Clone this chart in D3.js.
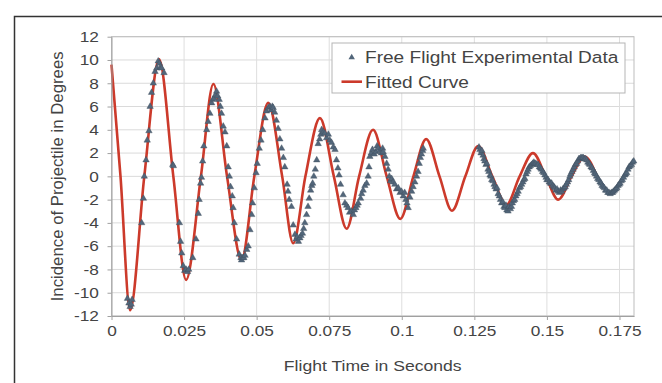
<!DOCTYPE html>
<html>
<head>
<meta charset="utf-8">
<script src="https://cdn.jsdelivr.net/npm/d3@7"></script>
<style>
	body { margin: 0; background: #fff; }
	svg text { font-family: "Liberation Sans", Arial, sans-serif; fill: #444; }
</style>
</head>
<body>
<svg id="graph"></svg>
<script>
// tick values of both axes
const xTicks = [0, 0.025, 0.05, 0.075, 0.1, 0.125, 0.15, 0.175];
const yTicks = [-12, -10, -8, -6, -4, -2, 0, 2, 4, 6, 8, 10, 12];

// legend labels and axis titles
const legendLabels = ["Free Flight Experimental Data", "Fitted Curve"];
const xTitle = "Flight Time in Seconds";
const yTitle = "Incidence of Projectile in Degrees";

// fitted curve: peaks, troughs and zero crossings [time, degrees]
const fittedCurve = [
	[0, 9.6], [0.0031, 0], [0.0064, -11.5], [0.0113, 0], [0.0164, 10.05],
	[0.0213, 0], [0.0257, -8.9], [0.0308, 0], [0.0351, 7.94], [0.0398, 0],
	[0.0448, -7.2], [0.0492, 0], [0.054, 6.33], [0.0588, 0], [0.0626, -5.75],
	[0.0668, 0], [0.0718, 5.0], [0.0766, 0], [0.081, -4.5], [0.0853, 0],
	[0.0901, 4.0], [0.0948, 0], [0.0995, -3.65], [0.104, 0], [0.1084, 3.2],
	[0.113, 0], [0.1173, -2.95], [0.1219, 0], [0.1263, 2.6], [0.1312, 0],
	[0.136, -2.45], [0.1406, 0], [0.1452, 2.0], [0.1496, 0], [0.1539, -2.0],
	[0.1585, 0], [0.163, 1.7], [0.1672, 0]
];

// free flight measurements [time, degrees]
const experimentalData = [
	[0.0055, -10.5], [0.006, -10.9], [0.0064, -11.2], [0.0068, -11.0], [0.0071, -10.6],
	[0.0104, -4.0], [0.011, -1.9], [0.0113, 0.0], [0.0119, 1.4], [0.0123, 3.1],
	[0.0129, 3.9], [0.0133, 6.0], [0.0138, 7.2], [0.0144, 8.0], [0.015, 9.0],
	[0.0156, 9.3], [0.0161, 9.9], [0.0165, 9.7], [0.0169, 9.4], [0.0173, 9.3],
	[0.0181, 8.9], [0.0211, 1.0], [0.0213, 0.9], [0.0234, -4.0], [0.0238, -5.6],
	[0.0242, -6.6], [0.0247, -7.7], [0.0252, -8.1], [0.0257, -8.0], [0.0262, -8.2],
	[0.0266, -8.0], [0.028, -7.0], [0.0291, -5.4], [0.0299, -3.2], [0.0302, -2.0],
	[0.0307, -0.6], [0.031, -0.1], [0.0314, 1.3], [0.0318, 2.6], [0.0328, 4.0],
	[0.0333, 4.7], [0.0339, 5.4], [0.0345, 6.3], [0.0349, 6.6], [0.0353, 6.7],
	[0.0358, 7.0], [0.0362, 7.3], [0.0366, 6.9], [0.0371, 6.6], [0.0375, 6.0],
	[0.0379, 5.4], [0.0385, 4.3], [0.0391, 3.8], [0.0397, 2.6], [0.0402, 0.8],
	[0.0406, 0.0], [0.041, -0.9], [0.0416, -1.7], [0.0419, -2.7], [0.0423, -4.0],
	[0.0431, -5.4], [0.044, -6.7], [0.0446, -7.0], [0.0448, -7.2], [0.0452, -7.0],
	[0.0456, -7.0], [0.046, -6.8], [0.0466, -6.3], [0.0471, -6.0], [0.0477, -4.6],
	[0.0483, -3.3], [0.0486, -2.3], [0.0492, -1.0], [0.0498, 0.3], [0.0502, 1.1],
	[0.0509, 2.4], [0.0515, 3.1], [0.0521, 4.0], [0.0529, 5.0], [0.0534, 5.6],
	[0.054, 5.9], [0.0546, 6.0], [0.055, 5.7], [0.0554, 6.0], [0.0557, 5.9],
	[0.0562, 5.5], [0.0568, 4.8], [0.0574, 4.1], [0.058, 3.2], [0.0586, 2.4],
	[0.0592, 1.6], [0.0597, 0.8], [0.0605, -0.7], [0.0608, -1.3], [0.0612, -2.0],
	[0.062, -2.6], [0.0626, -4.2], [0.0632, -5.0], [0.0636, -5.4], [0.064, -5.2],
	[0.0644, -5.6], [0.0649, -5.3], [0.0653, -5.1], [0.0658, -4.9], [0.0662, -4.5],
	[0.0666, -4.0], [0.0672, -3.3], [0.0677, -2.6], [0.0681, -1.9], [0.0686, -1.2],
	[0.069, -0.8], [0.0693, -0.6], [0.0697, 0.0], [0.0702, 0.6], [0.0707, 1.4],
	[0.0712, 2.8], [0.0717, 3.2], [0.0721, 3.6], [0.0724, 4.0], [0.073, 3.8],
	[0.0735, 3.7], [0.0741, 3.3], [0.0747, 3.6], [0.0752, 3.1], [0.0758, 2.9],
	[0.0764, 2.5], [0.077, 2.3], [0.0775, 1.4], [0.078, 0.7], [0.0784, 0.1],
	[0.0789, -0.7], [0.0798, -1.6], [0.0804, -2.3], [0.081, -2.5], [0.0815, -2.7],
	[0.082, -3.1], [0.0827, -3.0], [0.0833, -3.3], [0.0837, -2.9], [0.0842, -2.7],
	[0.0846, -2.5], [0.085, -2.3], [0.0858, -1.9], [0.0862, -1.5], [0.0867, -1.2],
	[0.0873, -0.8], [0.0879, -0.6], [0.0884, 0.0], [0.0887, 0.8], [0.089, 1.7],
	[0.0895, 2.0], [0.0899, 2.3], [0.0905, 1.9], [0.0911, 2.1], [0.0915, 2.6],
	[0.0919, 2.4], [0.0925, 2.2], [0.093, 2.0], [0.0934, 2.4], [0.0936, 2.1],
	[0.0942, 1.7], [0.0948, 1.1], [0.0953, 0.6], [0.0957, 0.0], [0.0961, -0.4],
	[0.0965, -0.2], [0.097, -0.5], [0.0976, -0.7], [0.0982, -1.1], [0.0988, -1.0],
	[0.0994, -1.4], [0.0999, -1.3], [0.1005, -1.7], [0.101, -1.4], [0.1014, -2.0],
	[0.1018, -2.3], [0.1022, -2.7], [0.1028, -1.8], [0.1034, -1.3], [0.1039, -0.9],
	[0.1045, -0.5], [0.1051, 0.0], [0.1056, 0.4], [0.106, 1.1], [0.1064, 1.6],
	[0.1068, 1.9], [0.1072, 2.2], [0.1074, 2.4],
	[0.1266, 2.5], [0.1269, 2.3], [0.1273, 2.0], [0.1276, 2.2], [0.128, 1.8],
	[0.1283, 1.5], [0.1286, 1.3], [0.129, 1.0], [0.1293, 1.1], [0.1297, 0.6],
	[0.13, 0.4], [0.1304, 0.1], [0.1307, 0.0], [0.131, -0.3], [0.1314, -0.4],
	[0.1318, -0.7], [0.1321, -0.9], [0.1325, -1.1], [0.1328, -1.0], [0.1332, -1.5],
	[0.1336, -1.7], [0.134, -2.0], [0.1344, -2.3], [0.1348, -2.2], [0.1352, -2.6],
	[0.1355, -2.7], [0.1359, -2.5], [0.1362, -2.9], [0.1366, -3.0], [0.137, -2.6],
	[0.1374, -2.8], [0.1378, -2.6], [0.1381, -2.3], [0.1385, -2.1], [0.1389, -2.0],
	[0.1393, -1.7], [0.1397, -1.5], [0.1401, -1.3], [0.1405, -1.0], [0.1409, -0.9],
	[0.1413, -0.7], [0.1417, -0.5], [0.142, -0.3], [0.1424, -0.2], [0.1428, 0.2],
	[0.1432, 0.4], [0.1435, 0.6], [0.1439, 0.8], [0.1443, 0.9], [0.1447, 1.0],
	[0.1451, 1.1], [0.1455, 1.2], [0.1458, 1.1], [0.1462, 1.1], [0.1466, 1.0],
	[0.147, 1.0], [0.1474, 0.8], [0.1478, 0.7], [0.1481, 0.6], [0.1485, 0.4],
	[0.1489, 0.3], [0.1493, 0.1], [0.1497, -0.1], [0.15, -0.3], [0.1504, -0.3],
	[0.1508, -0.5], [0.1512, -0.6], [0.1516, -0.6], [0.152, -0.8], [0.1524, -0.9],
	[0.1527, -1.0], [0.1531, -1.2], [0.1535, -1.1], [0.1539, -1.3], [0.1543, -1.4],
	[0.1547, -1.2], [0.1551, -1.3], [0.1555, -1.1], [0.1559, -1.0], [0.1563, -0.9],
	[0.1567, -0.7], [0.1571, -0.5], [0.1575, -0.3], [0.1579, 0.0], [0.1582, 0.2],
	[0.1586, 0.4], [0.159, 0.6], [0.1594, 0.8], [0.1598, 1.0], [0.1602, 1.1],
	[0.1606, 1.3], [0.161, 1.5], [0.1613, 1.5], [0.1617, 1.6], [0.1621, 1.6],
	[0.1625, 1.6], [0.1629, 1.5], [0.1633, 1.5], [0.1637, 1.4], [0.1641, 1.2],
	[0.1645, 1.1], [0.1648, 1.0], [0.1652, 0.8], [0.1656, 0.7], [0.166, 0.5],
	[0.1664, 0.3], [0.1667, 0.2], [0.1671, 0.0], [0.1675, -0.2], [0.1679, -0.3],
	[0.1683, -0.5], [0.1687, -0.6], [0.169, -0.8], [0.1694, -0.9], [0.1698, -1.0],
	[0.1702, -1.2], [0.1706, -1.2], [0.171, -1.4], [0.1714, -1.4], [0.1718, -1.5],
	[0.1722, -1.4], [0.1726, -1.4], [0.1729, -1.3], [0.1733, -1.2], [0.1737, -1.1],
	[0.1741, -1.0], [0.1745, -0.8], [0.1749, -0.7], [0.1752, -0.6], [0.1756, -0.4],
	[0.176, -0.3], [0.1764, -0.1], [0.1768, 0.1], [0.1771, 0.2], [0.1775, 0.3],
	[0.1779, 0.6], [0.1783, 0.8], [0.1787, 0.9], [0.1791, 1.0], [0.1795, 1.2],
	[0.1799, 1.3]
];

document.addEventListener("DOMContentLoaded", function () {
	const w = 662;
	const h = 383;
	const plot = { left: 111.5, right: 634, top: 36.7, bottom: 316 };
	const stretch = 1.15; // text in the picture is a bit wider than normal
	const curveColor = "#cc3a2b";
	const markColor = "#52667a";

	const svg = d3.select("#graph").attr("width", w).attr("height", h);

	// outer chart frame, it runs past the right and bottom edges
	svg.append("rect")
		.attr("x", 14.5).attr("y", 16.5)
		.attr("width", 720).attr("height", 420)
		.attr("fill", "none").attr("stroke", "#333").attr("stroke-width", 1.5);

	const xScale = d3.scaleLinear().domain([0, 0.18]).range([plot.left, plot.right]);
	const yScale = d3.scaleLinear().domain([-12, 12]).range([plot.bottom, plot.top]);

	// grid lines
	svg.append("g").selectAll("line").data(yTicks).enter().append("line")
		.attr("x1", plot.left).attr("x2", plot.right)
		.attr("y1", (d) => yScale(d)).attr("y2", (d) => yScale(d))
		.attr("stroke", "#dadada");
	svg.append("g").selectAll("line").data(xTicks.slice(1)).enter().append("line")
		.attr("x1", (d) => xScale(d)).attr("x2", (d) => xScale(d))
		.attr("y1", plot.top).attr("y2", plot.bottom)
		.attr("stroke", "#dedede");

	// plot area border
	svg.append("rect")
		.attr("x", plot.left).attr("y", plot.top)
		.attr("width", plot.right - plot.left).attr("height", plot.bottom - plot.top)
		.attr("fill", "none").attr("stroke", "#bdbdbd");

	// fitted curve (drawn under the markers)
	const line = d3.line()
		.x((d) => xScale(d[0]))
		.y((d) => yScale(d[1]))
		.curve(d3.curveMonotoneX);
	svg.append("path")
		.datum(fittedCurve)
		.attr("d", line)
		.attr("fill", "none")
		.attr("stroke", curveColor)
		.attr("stroke-width", 2.6);

	// experimental triangles
	const tri = d3.symbol().type(d3.symbolTriangle).size(18);
	svg.append("g").selectAll("path").data(experimentalData).enter().append("path")
		.attr("d", tri)
		.attr("transform", (d) => `translate(${xScale(d[0])},${yScale(d[1])})`)
		.attr("fill", markColor)
		.attr("stroke", "#3e4f5e")
		.attr("stroke-width", 0.4);

	// axes
	const xAxis = d3.axisBottom(xScale).tickValues(xTicks).tickFormat((d) => String(d))
		.tickSizeInner(4).tickSizeOuter(0).tickPadding(5);
	const yAxis = d3.axisLeft(yScale).tickValues(yTicks).tickFormat((d) => String(d))
		.tickSizeInner(4).tickSizeOuter(0).tickPadding(7);

	const gx = svg.append("g")
		.attr("transform", "translate(0, " + plot.bottom + ")")
		.call(xAxis);
	const gy = svg.append("g")
		.attr("transform", "translate(" + plot.left + ", 0)")
		.call(yAxis);
	[gx, gy].forEach((g) => {
		g.select(".domain").attr("stroke", "#a0a0a0");
		g.selectAll(".tick line").attr("stroke", "#a0a0a0");
		g.selectAll(".tick text")
			.attr("fill", "#444")
			.attr("font-size", 15)
			.attr("font-family", null)
			.attr("transform", `scale(${stretch},1)`);
	});

	// helper for stretched horizontal text
	function addText(x, y, str, size, anchor) {
		return svg.append("text")
			.attr("transform", `translate(${x},${y}) scale(${stretch},1)`)
			.attr("dy", "0.35em")
			.attr("text-anchor", anchor)
			.attr("font-size", size)
			.text(str);
	}

	// axis titles
	addText((plot.left + plot.right) / 2, 366, xTitle, 15.3, "middle");
	svg.append("text")
		.attr("transform", `translate(57.5, ${(plot.top + plot.bottom) / 2}) rotate(-90)`)
		.attr("dy", "0.35em")
		.attr("text-anchor", "middle")
		.attr("font-size", 16.8)
		.text(yTitle);

	// legend
	const legend = { x: 332, y: 43, w: 293, h: 50 };
	svg.append("rect")
		.attr("x", legend.x).attr("y", legend.y)
		.attr("width", legend.w).attr("height", legend.h)
		.attr("fill", "#fff").attr("stroke", "#b5b5b5");
	svg.append("path")
		.attr("d", tri)
		.attr("transform", "translate(351.7, 57.5)")
		.attr("fill", markColor);
	svg.append("line")
		.attr("x1", 341.5).attr("x2", 362).attr("y1", 81.7).attr("y2", 81.7)
		.attr("stroke", curveColor).attr("stroke-width", 2.6);
	addText(365, 57.5, legendLabels[0], 16.6, "start").attr("fill", "#333");
	addText(365, 81.7, legendLabels[1], 16.6, "start").attr("fill", "#333");
});
</script>
</body>
</html>
